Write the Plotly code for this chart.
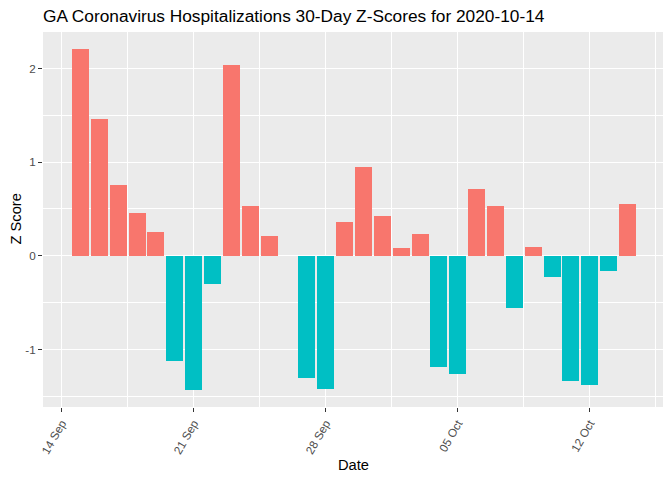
import pandas as pd
import plotly.graph_objects as go

dates = pd.date_range("2020-09-15", "2020-10-14", freq="D")
z_scores = [2.21, 1.46, 0.76, 0.46, 0.25, -1.12, -1.43, -0.30, 2.04, 0.53,
            0.21, 0.0, -1.30, -1.42, 0.36, 0.95, 0.42, 0.085, 0.235, -1.185,
            -1.26, 0.715, 0.53, -0.555, 0.095, -0.225, -1.335, -1.375, -0.16, 0.555]
y_tick_vals = [-1, 0, 1, 2]
y_tick_text = ["-1", "0", "1", "2"]

pos_color = "#F8766D"
neg_color = "#00BFC4"
colors = [pos_color if v > 0 else neg_color for v in z_scores]

fig = go.Figure()
fig.add_trace(go.Bar(
    x=dates, y=z_scores,
    marker=dict(color=colors, line=dict(width=0)),
    width=0.9 * 86400000,
    showlegend=False,
))

font_family = "Liberation Sans, Arial, sans-serif"
fig.update_layout(
    width=664, height=472,
    margin=dict(l=35, r=9, t=24, b=73, autoexpand=False),
    paper_bgcolor="white",
    plot_bgcolor="#EBEBEB",
    font=dict(family=font_family, color="black"),
    bargap=0,
    title=dict(
        text="GA Coronavirus Hospitalizations 30-Day Z-Scores for 2020-10-14",
        x=0, xref="paper", xanchor="left",
        y=1, yref="container", yanchor="top",
        pad=dict(t=2, b=0, l=0, r=0),
        font=dict(size=17.3, color="black", family=font_family),
    ),
    xaxis=dict(
        type="date",
        range=["2020-09-13 00:15", "2020-10-15 21:05"],
        tick0="2020-09-14", dtick=7 * 86400000,
        tickformat="%d %b",
        tickangle=-60,
        ticks="outside", ticklen=4, tickcolor="#333333", tickwidth=1,
        tickfont=dict(size=11.7, color="#4D4D4D", family=font_family),
        showgrid=True, gridcolor="white", gridwidth=1.4,
        minor=dict(tick0="2020-09-14", dtick=3.5 * 86400000, showgrid=True,
                   gridcolor="white", gridwidth=0.7, ticks=""),
        zeroline=False, showline=False,
        automargin=False,
    ),
    yaxis=dict(
        range=[-1.615, 2.39],
        tickvals=y_tick_vals, ticktext=y_tick_text,
        ticks="outside", ticklen=4, tickcolor="#333333", tickwidth=1,
        tickfont=dict(size=11.7, color="#4D4D4D", family=font_family),
        showgrid=True, gridcolor="white", gridwidth=1.4,
        minor=dict(tickvals=[-1.5, -0.5, 0.5, 1.5], showgrid=True,
                   gridcolor="white", gridwidth=0.7, ticks=""),
        zeroline=False, showline=False,
        automargin=False,
    ),
    annotations=[
        dict(text="Date", xref="paper", yref="paper", x=0.5, y=0,
             yshift=-58, xanchor="center", yanchor="middle", showarrow=False,
             font=dict(size=14.7, color="black", family=font_family)),
        dict(text="Z Score", xref="paper", yref="paper", x=0, y=0.5,
             xshift=-28, xanchor="center", yanchor="middle", showarrow=False,
             textangle=-90,
             font=dict(size=14.7, color="black", family=font_family)),
    ],
)

fig.write_html("out.html")
